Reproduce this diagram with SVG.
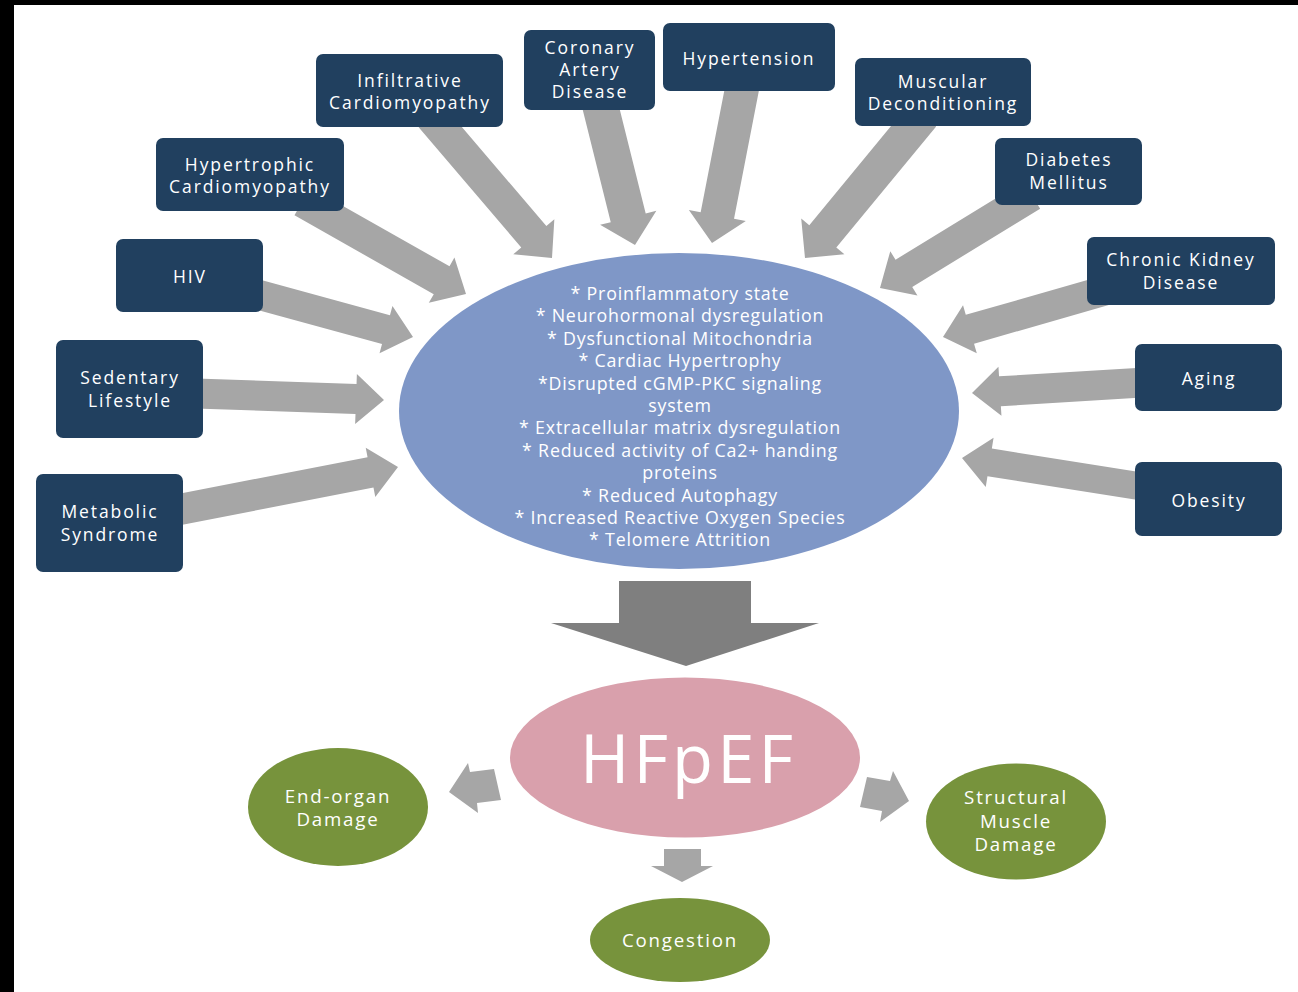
<svg xmlns="http://www.w3.org/2000/svg" width="1298" height="992" viewBox="0 0 1298 992">
<style>
.box{fill:#21405F;}
.bt{font-family:"Open Sans","Liberation Sans",sans-serif;font-size:17.5px;fill:#fff;text-anchor:middle;letter-spacing:1.9px;}
.arr{fill:#A6A6A6;}
.et{font-family:"Open Sans","Liberation Sans",sans-serif;font-size:17.8px;fill:#fff;text-anchor:middle;letter-spacing:0.8px;}
.gt{font-family:"Open Sans","Liberation Sans",sans-serif;font-size:18.7px;fill:#fff;text-anchor:middle;letter-spacing:1.8px;}
.green{fill:#77933C;}
</style>
<rect x="0" y="0" width="1298" height="992" fill="#fff"/>
<rect x="0" y="0" width="1298" height="5" fill="#000"/>
<rect x="0" y="0" width="14" height="992" fill="#000"/>

<g id="connectors">
  <polygon class="arr" transform="translate(552,258) rotate(49.5)" points="-186,-16.5 -28,-16.5 -28,-27 0,0 -28,27 -28,16.5 -186,16.5"/>
  <polygon class="arr" transform="translate(466,294) rotate(29.5)" points="-188,-16 -28,-16 -28,-26 0,0 -28,26 -28,16 -188,16"/>
  <polygon class="arr" transform="translate(413,337) rotate(15.3)" points="-184,-15 -28,-15 -28,-24.5 0,0 -28,24.5 -28,15 -184,15"/>
  <polygon class="arr" transform="translate(384,400) rotate(2)" points="-196,-15 -28,-15 -28,-25 0,0 -28,25 -28,15 -196,15"/>
  <polygon class="arr" transform="translate(398,467) rotate(-11)" points="-233,-15.5 -28,-15.5 -28,-25 0,0 -28,25 -28,15.5 -233,15.5"/>
  <polygon class="arr" transform="translate(635,245) rotate(76)" points="-154,-18 -28,-18 -28,-29 0,0 -28,29 -28,18 -154,18"/>
  <polygon class="arr" transform="translate(712,243) rotate(101)" points="-170,-17 -28,-17 -28,-29 0,0 -28,29 -28,17 -170,17"/>
  <polygon class="arr" transform="translate(805,258) rotate(129.5)" points="-185,-17.5 -28,-17.5 -28,-28 0,0 -28,28 -28,17.5 -185,17.5"/>
  <polygon class="arr" transform="translate(880,288) rotate(148.5)" points="-178,-16 -28,-16 -28,-26 0,0 -28,26 -28,16 -178,16"/>
  <polygon class="arr" transform="translate(943,337) rotate(164)" points="-179,-15 -28,-15 -28,-25 0,0 -28,25 -28,15 -179,15"/>
  <polygon class="arr" transform="translate(972,393) rotate(176.5)" points="-178,-15 -28,-15 -28,-24.5 0,0 -28,24.5 -28,15 -178,15"/>
  <polygon class="arr" transform="translate(962,458) rotate(189)" points="-190,-14 -28,-14 -28,-25 0,0 -28,25 -28,14 -190,14"/>
  <polygon fill="#7F7F7F" points="619,581 751,581 751,623 819,623 686,666 551,623 619,623"/>
  <polygon class="arr" points="494,769 470,772 468,763 449,792 478,813 477,803 501,800"/>
  <polygon class="arr" points="867,777 890,781 893,771 909,801 880,822 882,811 860,807"/>
  <polygon class="arr" points="664,849 701,849 701,866 713,866 682,882 651,866 664,866"/>
</g>

<g id="infiltrative">
  <rect class="box" x="316" y="54" width="187" height="73" rx="7"/>
  <text class="bt" x="410" y="86.9">Infiltrative</text>
  <text class="bt" x="410" y="109.1">Cardiomyopathy</text>
</g>
<g id="hypertrophic">
  <rect class="box" x="156" y="138" width="188" height="73" rx="7"/>
  <text class="bt" x="250" y="170.9">Hypertrophic</text>
  <text class="bt" x="250" y="193.1">Cardiomyopathy</text>
</g>
<g id="cad">
  <rect class="box" x="524" y="30" width="131" height="80" rx="7"/>
  <text class="bt" x="590" y="53.8">Coronary</text>
  <text class="bt" x="590" y="76">Artery</text>
  <text class="bt" x="590" y="98.2">Disease</text>
</g>
<g id="hypertension">
  <rect class="box" x="663" y="23" width="172" height="68" rx="7"/>
  <text class="bt" x="749" y="64.5">Hypertension</text>
</g>
<g id="muscular">
  <rect class="box" x="855" y="58" width="176" height="68" rx="7"/>
  <text class="bt" x="943" y="87.9">Muscular</text>
  <text class="bt" x="943" y="110.1">Deconditioning</text>
</g>
<g id="diabetes">
  <rect class="box" x="995" y="138" width="147" height="67" rx="7"/>
  <text class="bt" x="1069" y="166.4">Diabetes</text>
  <text class="bt" x="1069" y="188.6">Mellitus</text>
</g>
<g id="ckd">
  <rect class="box" x="1087" y="237" width="188" height="68" rx="7"/>
  <text class="bt" x="1181" y="266.4">Chronic Kidney</text>
  <text class="bt" x="1181" y="288.6">Disease</text>
</g>
<g id="aging">
  <rect class="box" x="1135" y="344" width="147" height="67" rx="7"/>
  <text class="bt" x="1209" y="385">Aging</text>
</g>
<g id="obesity">
  <rect class="box" x="1135" y="462" width="147" height="74" rx="7"/>
  <text class="bt" x="1209" y="506.5">Obesity</text>
</g>
<g id="hiv">
  <rect class="box" x="116" y="239" width="147" height="73" rx="7"/>
  <text class="bt" x="190" y="282.5">HIV</text>
</g>
<g id="sedentary">
  <rect class="box" x="56" y="340" width="147" height="98" rx="7"/>
  <text class="bt" x="130" y="384.4">Sedentary</text>
  <text class="bt" x="130" y="406.6">Lifestyle</text>
</g>
<g id="metabolic">
  <rect class="box" x="36" y="474" width="147" height="98" rx="7"/>
  <text class="bt" x="110" y="518.4">Metabolic</text>
  <text class="bt" x="110" y="540.6">Syndrome</text>
</g>

<g id="mechanisms">
  <ellipse cx="679" cy="411" rx="280" ry="158" fill="#7F97C7"/>
  <text class="et" x="680" y="300">* Proinflammatory state</text>
  <text class="et" x="680" y="322.4">* Neurohormonal dysregulation</text>
  <text class="et" x="680" y="344.8">* Dysfunctional Mitochondria</text>
  <text class="et" x="680" y="367.2">* Cardiac Hypertrophy</text>
  <text class="et" x="680" y="389.6">*Disrupted cGMP-PKC signaling</text>
  <text class="et" x="680" y="412">system</text>
  <text class="et" x="680" y="434.4">* Extracellular matrix dysregulation</text>
  <text class="et" x="680" y="456.8">* Reduced activity of Ca2+ handing</text>
  <text class="et" x="680" y="479.2">proteins</text>
  <text class="et" x="680" y="501.6">* Reduced Autophagy</text>
  <text class="et" x="680" y="524">* Increased Reactive Oxygen Species</text>
  <text class="et" x="680" y="546.4">* Telomere Attrition</text>
</g>

<g id="hfpef">
  <ellipse cx="685" cy="757.5" rx="175" ry="80" fill="#D9A0AC"/>
  <text x="686.5" y="783" font-family="'Open Sans','Liberation Sans',sans-serif" font-size="67" fill="#fff" text-anchor="middle" textLength="213" lengthAdjust="spacing">HFpEF</text>
</g>

<g id="endorgan">
  <ellipse class="green" cx="338" cy="807" rx="90" ry="59"/>
  <text class="gt" x="338" y="802.7">End-organ</text>
  <text class="gt" x="338" y="826.3">Damage</text>
</g>
<g id="structural">
  <ellipse class="green" cx="1016" cy="821.5" rx="90" ry="58"/>
  <text class="gt" x="1016" y="803.9">Structural</text>
  <text class="gt" x="1016" y="827.5">Muscle</text>
  <text class="gt" x="1016" y="851.1">Damage</text>
</g>
<g id="congestion">
  <ellipse class="green" cx="680" cy="940" rx="90" ry="42"/>
  <text class="gt" x="680" y="947">Congestion</text>
</g>
</svg>
